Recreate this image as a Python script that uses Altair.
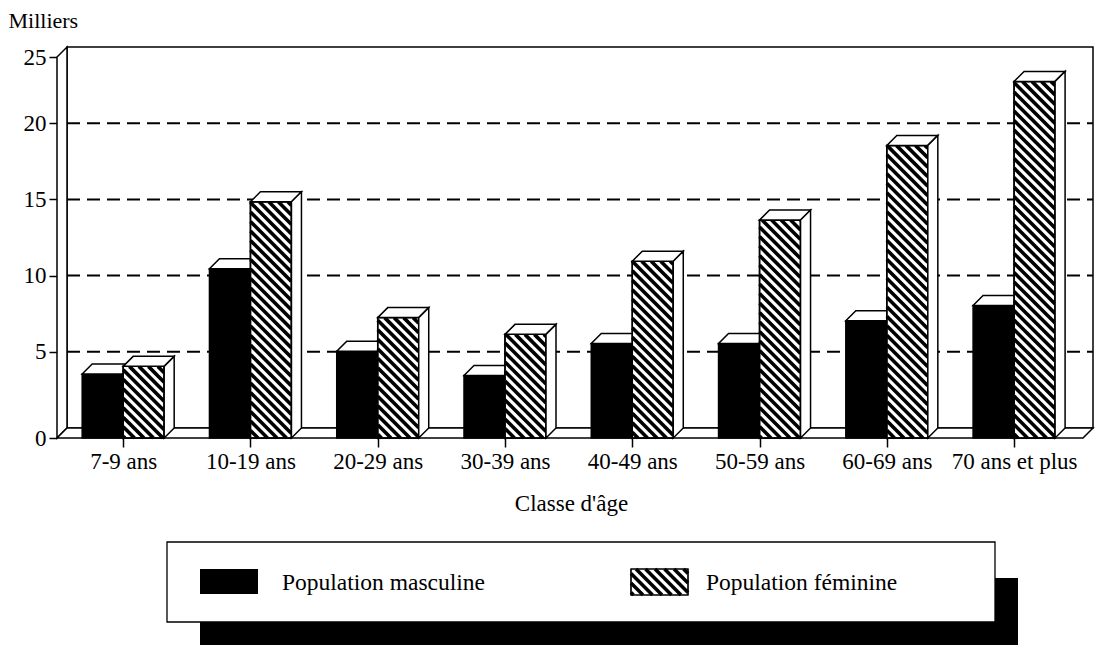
import altair as alt
import pandas as pd

# ---------------- data ----------------
categories = ["7-9 ans", "10-19 ans", "20-29 ans", "30-39 ans",
              "40-49 ans", "50-59 ans", "60-69 ans", "70 ans et plus"]
masculine = [4.2, 11.1, 5.7, 4.1, 6.2, 6.2, 7.7, 8.7]
feminine = [4.7, 15.5, 7.9, 6.8, 11.6, 14.3, 19.2, 23.4]
y_ticks = [0, 5, 10, 15, 20, 25]
legend_labels = ["Population masculine", "Population féminine"]
y_title = "Milliers"
x_title = "Classe d'âge"

# ---------------- style / geometry ----------------
FONT = "Liberation Serif"
FS = 23
W, H = 1036, 391
XMIN, XMAX = -0.02, 8.12
PXU = W / (XMAX - XMIN)
DEPTH = 10
YTOP = y_ticks[-1]
YMAX = YTOP / (1 - DEPTH / H)
PYU = H / YMAX
DX = DEPTH / PXU
DY = DEPTH / PYU
FR = XMAX - DX
BW = 41 / PXU
HATCH_P = 9.5
HATCH_W = 3.6
LW = 1.5


def px2x(px):
    return XMIN + px / PXU


def py2y(py):
    return (H - py) / PYU


def x2px(x):
    return (x - XMIN) * PXU


def y2py(y):
    return H - y * PYU


centers = [i + 0.5 for i in range(len(categories))]

xs = alt.Scale(domain=[XMIN, XMAX], nice=False, zero=False)
ys = alt.Scale(domain=[0, YMAX], nice=False, zero=False)

AX = alt.Axis(values=centers, title=x_title, grid=False, domain=False,
              tickSize=9, tickWidth=1.5, tickColor="black",
              labelExpr="%s[round(datum.value - 0.5)]" % str(categories),
              labelFont=FONT, labelFontSize=FS, labelColor="black",
              labelPadding=3, labelFlush=False, labelOverlap=False,
              titleFont=FONT, titleFontSize=FS, titleFontWeight="normal",
              titleColor="black", titleX=514, titleY=65,
              titleBaseline="middle", titleAlign="center")
AY = alt.Axis(values=[0] + [v + DY for v in y_ticks[1:-1]] + [YTOP],
              title=y_title, grid=False, domain=False,
              tickSize=8, tickWidth=1.5, tickColor="black",
              labelExpr="format(floor(datum.value + 0.01), 'd')",
              labelFont=FONT, labelFontSize=FS, labelColor="black",
              labelPadding=3, labelFlush=False, labelOverlap=False,
              titleFont=FONT, titleFontSize=22, titleFontWeight="normal",
              titleColor="black", titleAngle=0, titleAlign="left",
              titleBaseline="middle", titleX=-49, titleY=-27)


def X(f):
    return alt.X(f, scale=xs, axis=AX)


def Y(f):
    return alt.Y(f, scale=ys, axis=AY, stack=None)


def hface(fid, x0, x1, v):
    return [dict(fid=fid, x=x0, y=v, y2=v),
            dict(fid=fid, x=x0 + DX, y=v, y2=v + DY),
            dict(fid=fid, x=x1, y=v, y2=v + DY),
            dict(fid=fid, x=x1 + DX, y=v + DY, y2=v + DY)]


def vface(fid, x, lo, hi):
    return [dict(fid=fid, x=x, y=lo, y2=hi),
            dict(fid=fid, x=x + DX, y=lo + DY, y2=hi + DY)]


def hatch(L, R, T, B, period):
    segs = []
    k0 = T - R
    k = k0 + ((-k0) % period)
    while k < B - L:
        xa = max(L, T - k)
        xb = min(R, B - k)
        if xb > xa:
            segs.append((xa, xa + k, xb, xb + k))
        k += period
    return segs


def faces_layer(rows):
    df = pd.DataFrame(rows)
    return alt.Chart(df).mark_area(fill="white", stroke="black", strokeWidth=LW,
                                   strokeJoin="miter", opacity=1).encode(
        x=X("x:Q"), y=Y("y:Q"), y2="y2:Q", detail="fid:N")


# ---------------- frame ----------------
back = alt.Chart(pd.DataFrame([dict(x=XMIN + DX, x2=XMAX, y=DY, y2=YMAX)])).mark_rect(
    fill="white", stroke="black", strokeWidth=LW).encode(
    x=X("x:Q"), x2="x2:Q", y=Y("y:Q"), y2="y2:Q")

frame = faces_layer(vface("lw", XMIN, 0, YTOP) + hface("floor", XMIN, FR, 0))

grid_df = pd.DataFrame([dict(x=XMIN + DX, x2=XMAX, y=v + DY) for v in y_ticks[1:-1]])
grid = alt.Chart(grid_df).mark_rule(color="black", strokeWidth=2, strokeDash=[13, 7]).encode(
    x=X("x:Q"), x2="x2:Q", y=Y("y:Q"))

# ---------------- bars ----------------
m_df = pd.DataFrame(dict(x0=[c - BW for c in centers], x1=centers, v=masculine))
f_df = pd.DataFrame(dict(x0=centers, x1=[c + BW for c in centers], v=feminine))
m_df["zero"] = 0.0
f_df["zero"] = 0.0

m_front = alt.Chart(m_df).mark_rect(fill="black", stroke="black", strokeWidth=LW).encode(
    x=X("x0:Q"), x2="x1:Q", y=Y("zero:Q"), y2="v:Q")

m_faces = faces_layer(
    [r for i, (c, v) in enumerate(zip(centers, masculine))
     for r in hface("mc%d" % i, c - BW, c, v) + vface("ms%d" % i, c, 0, v)])

f_front = alt.Chart(f_df).mark_rect(fill="white", stroke="black", strokeWidth=LW).encode(
    x=X("x0:Q"), x2="x1:Q", y=Y("zero:Q"), y2="v:Q")

hrows = []
for c, v in zip(centers, feminine):
    for (xa, ya, xb, yb) in hatch(x2px(c), x2px(c + BW), y2py(v), y2py(0), HATCH_P):
        hrows.append(dict(x=px2x(xa), y=py2y(ya), x2=px2x(xb), y2=py2y(yb)))

# ---------------- legend (positions in plot pixels) ----------------
SH = (143, 531, 961, 600)
BOX = (110, 495, 938, 575)
SW1 = (143, 522, 201, 547)
SW2 = (574, 522, 631, 548)
TXT = [(225, 536), (649, 536)]

for (xa, ya, xb, yb) in hatch(SW2[0], SW2[2], SW2[1], SW2[3], HATCH_P):
    hrows.append(dict(x=px2x(xa), y=py2y(ya), x2=px2x(xb), y2=py2y(yb)))

hatch_lines = alt.Chart(pd.DataFrame(hrows)).mark_rule(
    color="black", strokeWidth=HATCH_W, strokeCap="butt").encode(
    x=X("x:Q"), x2="x2:Q", y=Y("y:Q"), y2="y2:Q")

f_outline = alt.Chart(f_df).mark_rect(fill=None, filled=False, stroke="black",
                                      strokeWidth=LW).encode(
    x=X("x0:Q"), x2="x1:Q", y=Y("zero:Q"), y2="v:Q")

f_faces = faces_layer(
    [r for i, (c, v) in enumerate(zip(centers, feminine))
     for r in hface("fc%d" % i, c, c + BW, v) + vface("fs%d" % i, c + BW, 0, v)])


def prect(r):
    return dict(x=px2x(r[0]), y=py2y(r[1]), x2=px2x(r[2]), y2=py2y(r[3]))


def rect_layer(r, **kw):
    return alt.Chart(pd.DataFrame([prect(r)])).mark_rect(**kw).encode(
        x=X("x:Q"), x2="x2:Q", y=Y("y:Q"), y2="y2:Q")


shadow = rect_layer(SH, fill="black")
box = rect_layer(BOX, fill="white", stroke="black", strokeWidth=1.3)
sw1 = rect_layer(SW1, fill="black")
sw2 = rect_layer(SW2, fill="white", stroke="black", strokeWidth=1.2)
sw2_outline = rect_layer(SW2, fill=None, filled=False, stroke="black", strokeWidth=1.2)

leg_txt = alt.Chart(pd.DataFrame([dict(x=px2x(p[0]), y=py2y(p[1]), t=t)
                                  for p, t in zip(TXT, legend_labels)])).mark_text(
    align="left", baseline="middle", font=FONT, fontSize=23.5, color="black").encode(
    x=X("x:Q"), y=Y("y:Q"), text="t:N")

chart = alt.layer(
    back, frame, grid, m_front, m_faces, f_front, shadow, box, sw1, sw2,
    hatch_lines, f_outline, sw2_outline, f_faces, leg_txt
).properties(
    width=W, height=H,
    padding={"left": 49, "top": 39, "right": 2, "bottom": 207},
    autosize=alt.AutoSizeParams(type="none"),
    background="white",
).configure_view(stroke=None).configure_axis(
    labelFont=FONT, titleFont=FONT, labelFontSize=FS, titleFontSize=FS,
    labelColor="black", titleColor="black", titleFontWeight="normal",
).configure_text(font=FONT)

chart.save("out.html", embed_options={"renderer": "svg", "actions": False})
